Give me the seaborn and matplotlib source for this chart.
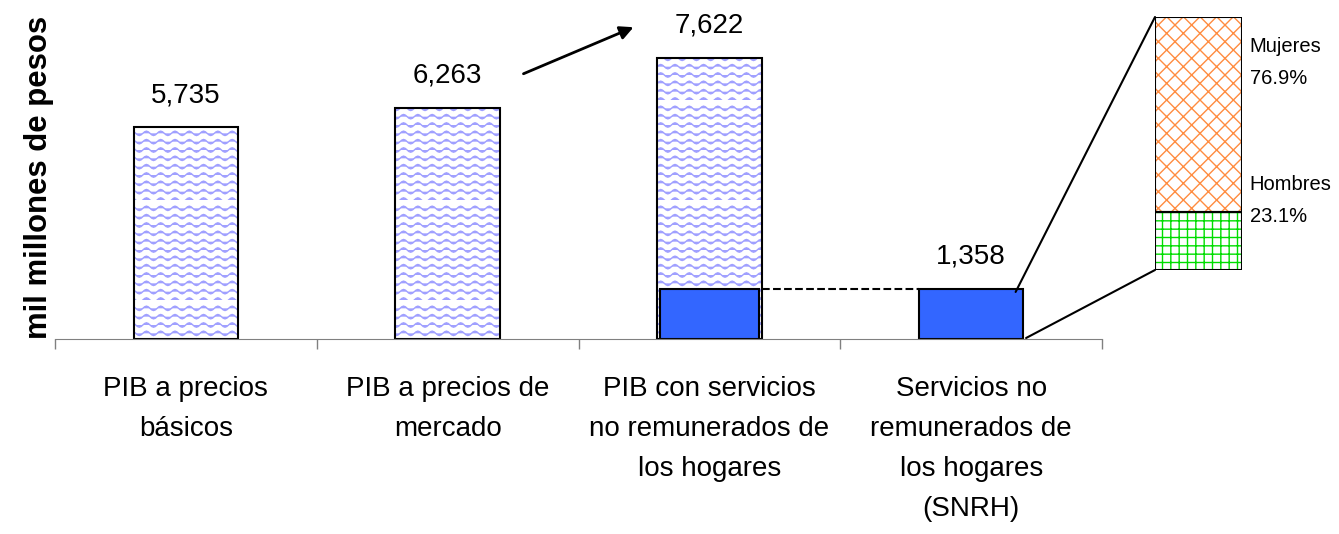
import matplotlib
matplotlib.use("Agg")
from matplotlib import pyplot as plt
from matplotlib import hatch as mhatch
from matplotlib.path import Path
from matplotlib.patches import ConnectionPatch
import numpy as np
import seaborn as sns

categories = ["PIB a precios\nbásicos", "PIB a precios de\nmercado",
              "PIB con servicios\nno remunerados de\nlos hogares",
              "Servicios no\nremunerados de\nlos hogares\n(SNRH)"]
values = [5735, 6263, 7622, 1358]
snrh = 1358
sexo = ["Hombres", "Mujeres"]
shares = [23.1, 76.9]


# wavy hatch for "-" (the old horizontal lines are kept only for "+")
class WaveHatch(mhatch.HatchPatternBase):
    def __init__(self, hatch, density):
        self.num_lines = int(hatch.count("-") * density)
        self.npts = 57
        self.num_vertices = self.num_lines * self.npts

    def set_vertices_and_codes(self, vertices, codes):
        xs = np.linspace(0, 1, self.npts)
        step = 1.0 / self.num_lines
        for i in range(self.num_lines):
            sl = slice(i * self.npts, (i + 1) * self.npts)
            vertices[sl, 0] = xs
            vertices[sl, 1] = i * step + 0.022 * np.sin(2 * np.pi * 7 * xs)
            codes[sl] = Path.LINETO
            codes[i * self.npts] = Path.MOVETO


class PlusHorizontal(mhatch.HorizontalHatch):
    def __init__(self, hatch, density):
        super().__init__(hatch.replace("-", ""), density)


mhatch._hatch_types[0] = PlusHorizontal
mhatch._hatch_types.append(WaveHatch)

sns.set_style("white")
plt.rcParams["font.family"] = ["Liberation Sans", "DejaVu Sans"]
plt.rcParams["text.color"] = "black"
plt.rcParams["axes.labelcolor"] = "black"
plt.rcParams["xtick.color"] = "black"
plt.rcParams["hatch.linewidth"] = 1.0

wave = "#a0a0ff"
blue = "#3366ff"

fig = plt.figure(figsize=(13.39, 5.34), dpi=100)
ax = fig.add_axes([55 / 1339, 195 / 534, 1047 / 1339, 313.6 / 534])

# hatched fill, then black outline on top
sns.barplot(x=categories, y=values, color="white", width=0.4, edgecolor=wave,
            linewidth=0, hatch="--", ax=ax)
ax.patches[3].set_hatch(None)
ax.patches[3].set_facecolor(blue)
ax.patches[3].set_edgecolor("black")
ax.patches[3].set_linewidth(1.5)
ax.bar(range(3), values[:3], width=0.4, fill=False, edgecolor="black", linewidth=1.5)
ax.bar(2, snrh, width=0.38, color=blue, edgecolor="black", linewidth=1.5)

for i, v in enumerate(values):
    ax.annotate(f"{v:,}", (i, v), xytext=(0, 23), textcoords="offset points",
                ha="center", va="center", fontsize=20)

ax.hlines(snrh, 2.2, 2.8, colors="black", linestyles="--", linewidth=1.5)
ax.annotate("", xy=(1.72, 8480), xytext=(1.28, 7160), annotation_clip=False,
            arrowprops=dict(arrowstyle="-|>", lw=2, color="black", mutation_scale=20))

ax.set_xlim(-0.5, 3.5)
ax.set_ylim(0, 8500)
ax.set_yticks([])
ax.set_xticks(range(4))
ax.set_xticklabels(categories, fontsize=20, linespacing=1.7)
ax.set_xticks([-0.5, 0.5, 1.5, 2.5, 3.5], minor=True)
ax.tick_params(axis="x", which="major", length=0, pad=26.5)
ax.tick_params(axis="x", which="minor", length=7, width=1, color="#808080", direction="out",
               bottom=True)
for s in ["top", "right", "left"]:
    ax.spines[s].set_visible(False)
ax.spines["bottom"].set_color("#808080")
ax.set_xlabel("")
ax.set_ylabel("mil millones de pesos", fontsize=22.4, fontweight="bold", labelpad=1)
ax.yaxis.label.set_y(0.515)

# breakdown of SNRH by sex
ax2 = fig.add_axes([1155 / 1339, 264 / 534, 87 / 1339, 253 / 534])
ax2.bar(0, shares[0], width=1, color="white", edgecolor="#00dd00", linewidth=0, hatch="++")
ax2.bar(0, shares[1], bottom=shares[0], width=1, color="white", edgecolor="#ff8c40",
        linewidth=0, hatch="xx")
ax2.bar(0, shares[0], width=1, fill=False, edgecolor="black", linewidth=1.5)
ax2.bar(0, shares[1], bottom=shares[0], width=1, fill=False, edgecolor="black", linewidth=1.5)
ax2.set_xlim(-0.5, 0.5)
ax2.set_ylim(0, 100)
ax2.axis("off")
ax2.text(1.09, 0.82, f"{sexo[1]}\n{shares[1]}%", transform=ax2.transAxes,
         fontsize=14.5, va="center", ha="left", linespacing=1.9)
ax2.text(1.09, 0.275, f"{sexo[0]}\n{shares[0]}%", transform=ax2.transAxes,
         fontsize=14.5, va="center", ha="left", linespacing=1.9)

for xa, ya, yb in [(3.17, 1275, 100), (3.21, 27, 0)]:
    con = ConnectionPatch(xyA=(xa, ya), coordsA=ax.transData, xyB=(-0.5, yb),
                          coordsB=ax2.transData, color="black", linewidth=1.5)
    fig.add_artist(con)

fig.savefig("out.png", dpi=100)
